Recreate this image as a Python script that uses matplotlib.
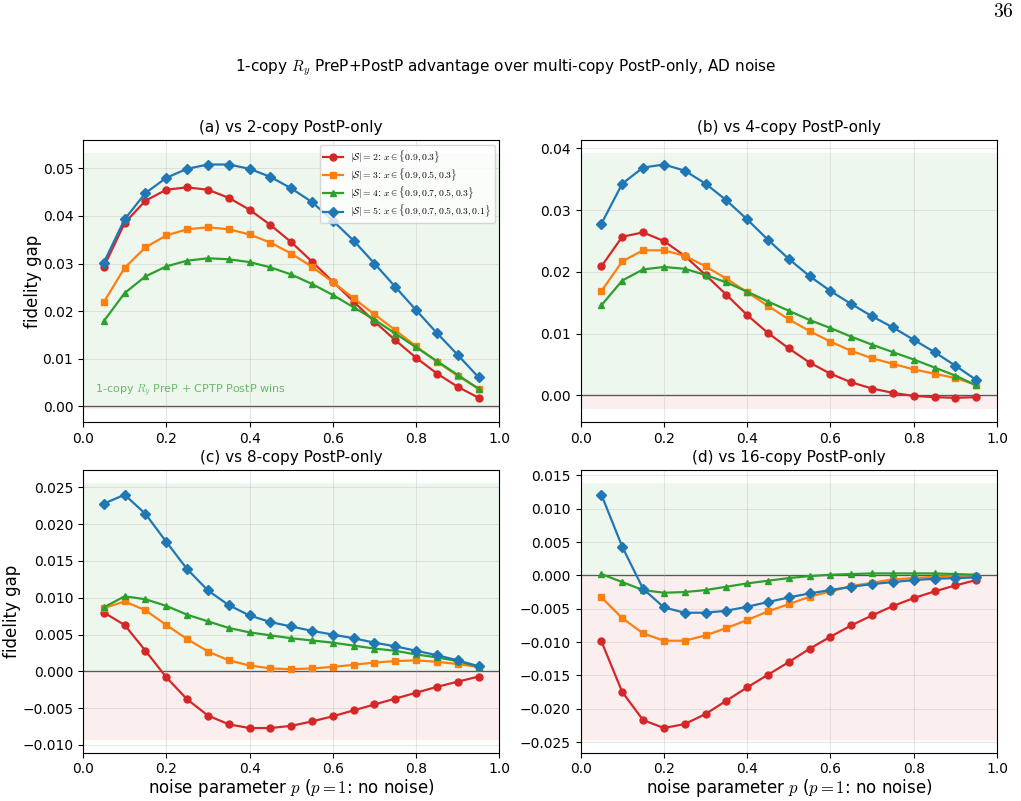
import matplotlib

matplotlib.use("Agg")
import matplotlib.pyplot as plt
import numpy as np

plt.rcParams["mathtext.fontset"] = "cm"

P = np.round(np.arange(0.05, 0.951, 0.05), 2)

LABELS = [
    r"$|\mathcal{S}|=2$: $x\in\{0.9,0.3\}$",
    r"$|\mathcal{S}|=3$: $x\in\{0.9,0.5,0.3\}$",
    r"$|\mathcal{S}|=4$: $x\in\{0.9,0.7,0.5,0.3\}$",
    r"$|\mathcal{S}|=5$: $x\in\{0.9,0.7,0.5,0.3,0.1\}$",
]
COLORS = ["#d62728", "#ff7f0e", "#2ca02c", "#1f77b4"]
MARKERS = ["o", "s", "^", "D"]
TITLES = [
    "(a) vs 2-copy PostP-only",
    "(b) vs 4-copy PostP-only",
    "(c) vs 8-copy PostP-only",
    "(d) vs 16-copy PostP-only",
]

# (a) vs 2-copy
GAP_2 = [
    [0.0293, 0.0385, 0.0432, 0.0455, 0.0460, 0.0455, 0.0438, 0.0413, 0.0381, 0.0345,
     0.0304, 0.0262, 0.0220, 0.0178, 0.0139, 0.0102, 0.0069, 0.0041, 0.0018],
    [0.0219, 0.0291, 0.0334, 0.0359, 0.0372, 0.0376, 0.0372, 0.0361, 0.0344, 0.0321,
     0.0293, 0.0261, 0.0227, 0.0193, 0.0160, 0.0126, 0.0094, 0.0064, 0.0037],
    [0.0179, 0.0238, 0.0273, 0.0294, 0.0306, 0.0311, 0.0309, 0.0303, 0.0292, 0.0277,
     0.0257, 0.0234, 0.0208, 0.0182, 0.0153, 0.0124, 0.0095, 0.0066, 0.0037],
    [0.0302, 0.0393, 0.0448, 0.0480, 0.0499, 0.0508, 0.0508, 0.0499, 0.0482, 0.0458,
     0.0429, 0.0390, 0.0348, 0.0300, 0.0251, 0.0202, 0.0154, 0.0108, 0.0061],
]
# (b) vs 4-copy
GAP_4 = [
    [0.0209, 0.0257, 0.0264, 0.0250, 0.0226, 0.0195, 0.0163, 0.0130, 0.0101, 0.0076,
     0.0053, 0.0035, 0.0021, 0.0011, 0.0004, -0.0001, -0.0003, -0.0004, -0.0003],
    [0.0169, 0.0217, 0.0235, 0.0235, 0.0226, 0.0209, 0.0189, 0.0167, 0.0145, 0.0123,
     0.0104, 0.0087, 0.0072, 0.0060, 0.0051, 0.0042, 0.0035, 0.0028, 0.0017],
    [0.0146, 0.0186, 0.0204, 0.0208, 0.0205, 0.0195, 0.0183, 0.0168, 0.0152, 0.0137,
     0.0122, 0.0109, 0.0095, 0.0082, 0.0070, 0.0058, 0.0045, 0.0032, 0.0016],
    [0.0278, 0.0343, 0.0369, 0.0374, 0.0364, 0.0343, 0.0316, 0.0285, 0.0252, 0.0221,
     0.0193, 0.0169, 0.0148, 0.0128, 0.0110, 0.0090, 0.0070, 0.0048, 0.0025],
]
# (c) vs 8-copy
GAP_8 = [
    [0.0080, 0.0063, 0.0028, -0.0008, -0.0038, -0.0060, -0.0072, -0.0077, -0.0077, -0.0074,
     -0.0068, -0.0061, -0.0053, -0.0045, -0.0037, -0.0029, -0.0021, -0.0014, -0.0007],
    [0.0086, 0.0095, 0.0083, 0.0063, 0.0044, 0.0027, 0.0015, 0.0008, 0.0004, 0.0003,
     0.0004, 0.0006, 0.0009, 0.0012, 0.0014, 0.0015, 0.0013, 0.0010, 0.0006],
    [0.0087, 0.0102, 0.0098, 0.0089, 0.0077, 0.0068, 0.0059, 0.0053, 0.0049, 0.0045,
     0.0042, 0.0039, 0.0035, 0.0031, 0.0028, 0.0023, 0.0019, 0.0014, 0.0006],
    [0.0228, 0.0240, 0.0214, 0.0176, 0.0139, 0.0110, 0.0090, 0.0076, 0.0067, 0.0061,
     0.0055, 0.0050, 0.0045, 0.0039, 0.0034, 0.0028, 0.0022, 0.0015, 0.0007],
]
# (d) vs 16-copy
GAP_16 = [
    [-0.0099, -0.0175, -0.0217, -0.0229, -0.0223, -0.0208, -0.0188, -0.0168, -0.0149, -0.0130,
     -0.0110, -0.0092, -0.0075, -0.0060, -0.0046, -0.0034, -0.0024, -0.0015, -0.0007],
    [-0.0033, -0.0064, -0.0087, -0.0098, -0.0098, -0.0090, -0.0079, -0.0067, -0.0054, -0.0043,
     -0.0032, -0.0024, -0.0016, -0.0011, -0.0006, -0.0004, -0.0002, -0.0001, -0.0001],
    [0.0002, -0.0010, -0.0022, -0.0026, -0.0025, -0.0022, -0.0017, -0.0012, -0.0008, -0.0004,
     -0.0001, 0.0001, 0.0002, 0.0003, 0.0003, 0.0003, 0.0003, 0.0002, 0.0001],
    [0.0121, 0.0043, -0.0020, -0.0048, -0.0056, -0.0056, -0.0053, -0.0047, -0.0040, -0.0033,
     -0.0027, -0.0022, -0.0017, -0.0013, -0.0010, -0.0007, -0.0005, -0.0004, -0.0003],
]


def plot_panel(ax, gaps, title):
    lo = min(min(g) for g in gaps)
    hi = max(max(g) for g in gaps)
    pad = 0.05 * (hi - lo)
    ax.axhspan(0, hi + pad, color="tab:green", alpha=0.08, lw=0, zorder=0)
    ax.axhspan(lo - pad, 0, color="tab:red", alpha=0.08, lw=0, zorder=0)
    ax.axhline(0, color="k", lw=0.9, alpha=0.8, zorder=1)
    for g, c, m, lab in zip(gaps, COLORS, MARKERS, LABELS):
        ax.plot(P, g, color=c, marker=m, ms=5, lw=1.6, label=lab, zorder=3)
    ax.set_xlim(0, 1)
    ax.set_title(title, fontsize=11)
    ax.grid(alpha=0.3)
    ax.tick_params(labelsize=10)


def main():
    fig, axes = plt.subplots(2, 2, figsize=(10.21, 8.01), dpi=100)
    fig.subplots_adjust(left=0.0813, right=0.9765, top=0.8252, bottom=0.0605,
                        wspace=0.195, hspace=0.17)
    for ax, gaps, title in zip(axes.flat, [GAP_2, GAP_4, GAP_8, GAP_16], TITLES):
        plot_panel(ax, gaps, title)

    axes[0, 0].legend(loc="upper right", fontsize=7, labelspacing=0.2,
                      borderpad=0.35)
    axes[0, 0].text(0.03, 0.105, r"1-copy $R_y$ PreP + CPTP PostP wins",
                    transform=axes[0, 0].transAxes, fontsize=8,
                    color="tab:green", alpha=0.7)
    for ax in axes[:, 0]:
        ax.set_ylabel("fidelity gap", fontsize=12, labelpad=0.5)
    for ax in axes[1, :]:
        ax.set_xlabel(r"noise parameter $p$ ($p=1$: no noise)", fontsize=12,
                      labelpad=0.5)

    fig.suptitle(r"1-copy $R_y$ PreP+PostP advantage over multi-copy PostP-only, AD noise",
                 fontsize=11, x=0.495, y=0.928)
    fig.text(0.983, 0.997, r"$36$", fontsize=14, ha="center", va="top")
    fig.savefig("out.png", dpi=100)
    plt.close(fig)


if __name__ == "__main__":
    main()
